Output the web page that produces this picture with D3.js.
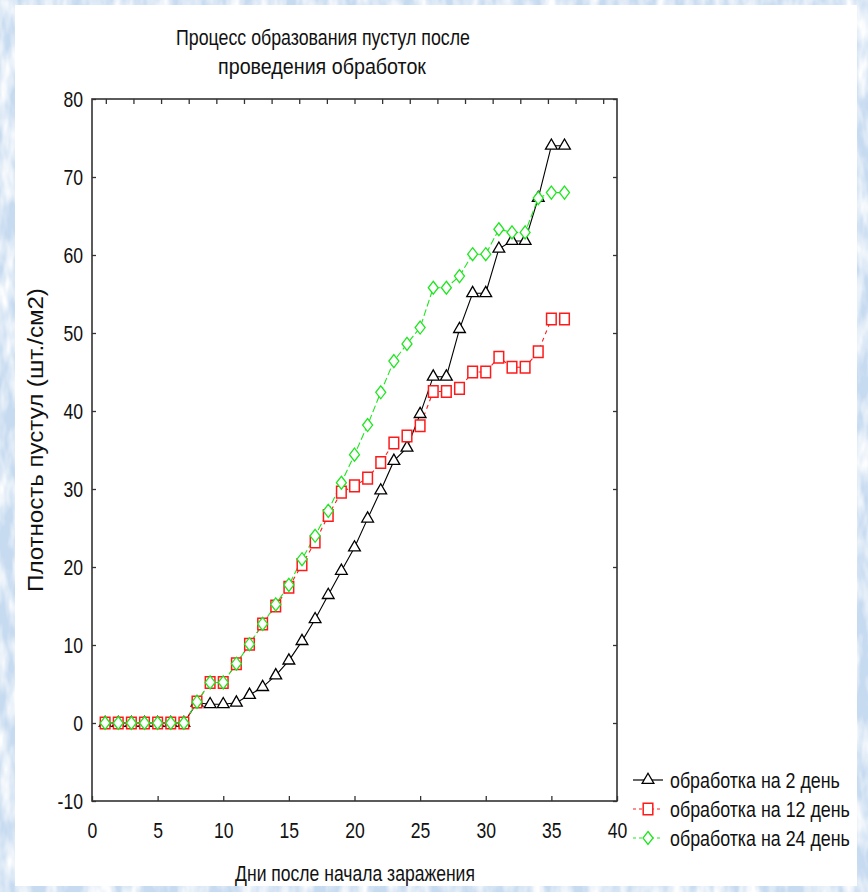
<!DOCTYPE html>
<html>
<head>
<meta charset="utf-8">
<script src="https://cdn.jsdelivr.net/npm/d3@7"></script>
<style>
  body { margin: 0; }
  svg text { font-family: "Liberation Sans", Arial, sans-serif; fill: #111; }
</style>
</head>
<body>
<svg id="chart" width="868" height="892"></svg>
<script>
// Data
const days = [1, 2, 3, 4, 5, 6, 7, 8, 9, 10, 11, 12, 13, 14, 15, 16, 17, 18,
  19, 20, 21, 22, 23, 24, 25, 26, 27, 28, 29, 30, 31, 32, 33, 34, 35, 36];

const treat2 = [0, 0, 0, 0, 0, 0, 0, 2.6, 2.4, 2.4, 2.6, 3.6, 4.6, 6.1, 8.0, 10.5, 13.3, 16.4,
  19.5, 22.5, 26.2, 29.8, 33.6, 35.3, 39.6, 44.4, 44.4, 50.5, 55.1, 55.1, 60.8, 61.8, 61.8, 67.3, 74.0, 74.0];

const treat12 = [0, 0, 0, 0, 0, 0, 0, 2.7, 5.2, 5.2, 7.6, 10.1, 12.7, 15.0, 17.4, 20.3, 23.2, 26.6,
  29.6, 30.4, 31.4, 33.4, 35.9, 36.8, 38.1, 42.5, 42.5, 42.9, 45.0, 45.0, 46.9, 45.6, 45.6, 47.6, 51.8, 51.8];

const treat24 = [0, 0, 0, 0, 0, 0, 0, 2.7, 5.2, 5.2, 7.6, 10.1, 12.7, 15.2, 17.7, 21.0, 24.0, 27.2,
  30.8, 34.4, 38.2, 42.4, 46.4, 48.6, 50.7, 55.8, 55.8, 57.3, 60.1, 60.1, 63.3, 62.9, 62.9, 67.3, 68.0, 68.0];

const seriesNames = ["обработка на 2 день", "обработка на 12 день", "обработка на 24 день"];
const xTicks = [0, 5, 10, 15, 20, 25, 30, 35, 40];
const yTicks = [-10, 0, 10, 20, 30, 40, 50, 60, 70, 80];
const topTicks = d3.range(19); // mirror axis on top has its own 19 ticks

const titleLines = ["Процесс образования пустул после", "проведения обработок"];
const xLabel = "Дни после начала заражения";
const yLabel = "Плотность пустул (шт./см2)";

const svg = d3.select("#chart");

// narrow font look: squeeze text horizontally with a transform
function squeezeTo(textSel, width) {
  const l = textSel.node().getComputedTextLength();
  textSel.attr("transform", `scale(${width / l},1)`);
}
function label(px, py, str, width, rot) {
  const g = svg.append("g").attr("transform", `translate(${px},${py})` + (rot ? ` rotate(${rot})` : ""));
  const t = g.append("text").attr("text-anchor", "middle").attr("font-size", 22).text(str);
  squeezeTo(t, width);
  return g;
}
function condense(sel, k) {
  sel.each(function () {
    const t = d3.select(this);
    const tx = +t.attr("x") || 0;
    t.attr("x", 0).attr("transform", `translate(${tx},0) scale(${k},1)`);
  });
}

// slide-like mottled blue background
const defs = svg.append("defs");
const f = defs.append("filter").attr("id", "mottle")
  .attr("x", 0).attr("y", 0).attr("width", "100%").attr("height", "100%");
f.append("feTurbulence").attr("type", "fractalNoise")
  .attr("baseFrequency", "0.07 0.025").attr("numOctaves", 3).attr("seed", 7);
f.append("feColorMatrix").attr("type", "matrix")
  .attr("values", "0 0 0 0 1  0 0 0 0 1  0 0 0 0 1  2.2 0 0 0 -0.75");

svg.append("rect").attr("width", 868).attr("height", 892).attr("fill", "#c6daf0");
svg.append("rect").attr("width", 868).attr("height", 892).attr("filter", "url(#mottle)");
svg.append("rect").attr("x", 15).attr("y", 5).attr("width", 842).attr("height", 881).attr("fill", "#fff");

// scales
const x = d3.scaleLinear().domain([0, 40]).range([92, 617]);
const y = d3.scaleLinear().domain([-10, 80]).range([801, 99]);
const xTop = d3.scalePoint().domain(topTicks).range([92, 617]).padding(0.5);

const frameColor = "#333";

// axes
const gx = svg.append("g").attr("transform", "translate(0,801)")
  .call(d3.axisBottom(x).tickValues(xTicks).tickSize(-5).tickPadding(21).tickFormat(d => String(d)));
const gy = svg.append("g").attr("transform", "translate(92,0)")
  .call(d3.axisLeft(y).tickValues(yTicks).tickSize(-4).tickPadding(9).tickFormat(d => String(d)));
svg.append("g").attr("transform", "translate(0,99)")
  .call(d3.axisTop(xTop).tickSize(-5).tickFormat(""));
svg.append("g").attr("transform", "translate(617,0)")
  .call(d3.axisRight(y).tickValues(yTicks).tickSize(-4).tickFormat(""));

svg.selectAll(".domain").remove();
svg.selectAll(".tick line").attr("stroke", frameColor).attr("stroke-width", 1.3);
svg.selectAll(".tick text").attr("font-size", 22).attr("fill", "#111")
  .style("font-family", "'Liberation Sans', Arial, sans-serif");
condense(gx.selectAll(".tick text"), 0.8);
condense(gy.selectAll(".tick text"), 0.8);

svg.append("rect").attr("x", 92).attr("y", 99).attr("width", 525).attr("height", 702)
  .attr("fill", "none").attr("stroke", frameColor).attr("stroke-width", 1.6);

// titles
label(323, 45, titleLines[0], 294);
label(322, 74, titleLines[1], 208);
label(355, 881, xLabel, 240);
label(43, 440, yLabel, 304, -90);

// markers
const triangle = d3.symbol().type(d3.symbolTriangle).size(60)();
const square = "M-4.8,-5.8H4.8V5.8H-4.8Z";
const diamond = "M0,-6.5L5,0L0,6.5L-5,0Z";

const series = [
  { name: seriesNames[0], values: treat2, color: "#000", dash: null, shape: triangle, sw: 1.3 },
  { name: seriesNames[1], values: treat12, color: "#ff1a1a", dash: "4,4", shape: square, sw: 1.5 },
  { name: seriesNames[2], values: treat24, color: "#1ee61e", dash: "7,3", shape: diamond, sw: 1.3 }
];

const line = d3.line().x((d, i) => x(days[i])).y(d => y(d));

series.forEach(s => {
  svg.append("path").datum(s.values).attr("d", line)
    .attr("fill", "none").attr("stroke", s.color).attr("stroke-width", 1.1)
    .attr("stroke-dasharray", s.dash);
});
series.forEach(s => {
  svg.append("g").selectAll("path").data(s.values).join("path")
    .attr("transform", (d, i) => `translate(${x(days[i])},${y(d)})`)
    .attr("d", s.shape).attr("fill", "#fff")
    .attr("stroke", s.color).attr("stroke-width", s.sw);
});

// legend
const legendWidths = [170, 180, 180];
series.forEach((s, i) => {
  const ly = 780 + i * 29;
  const lg = svg.append("g");
  lg.append("line").attr("x1", 633).attr("x2", 663).attr("y1", ly).attr("y2", ly)
    .attr("stroke", s.color).attr("stroke-width", 1.2)
    .attr("stroke-dasharray", s.dash ? "3,3" : null);
  lg.append("path").attr("transform", `translate(648,${ly})`).attr("d", s.shape)
    .attr("fill", "#fff").attr("stroke", s.color).attr("stroke-width", s.sw);
  const t = lg.append("g").attr("transform", `translate(670,${ly + 8})`)
    .append("text").attr("font-size", 22).text(s.name);
  squeezeTo(t, legendWidths[i]);
});
</script>
</body>
</html>
